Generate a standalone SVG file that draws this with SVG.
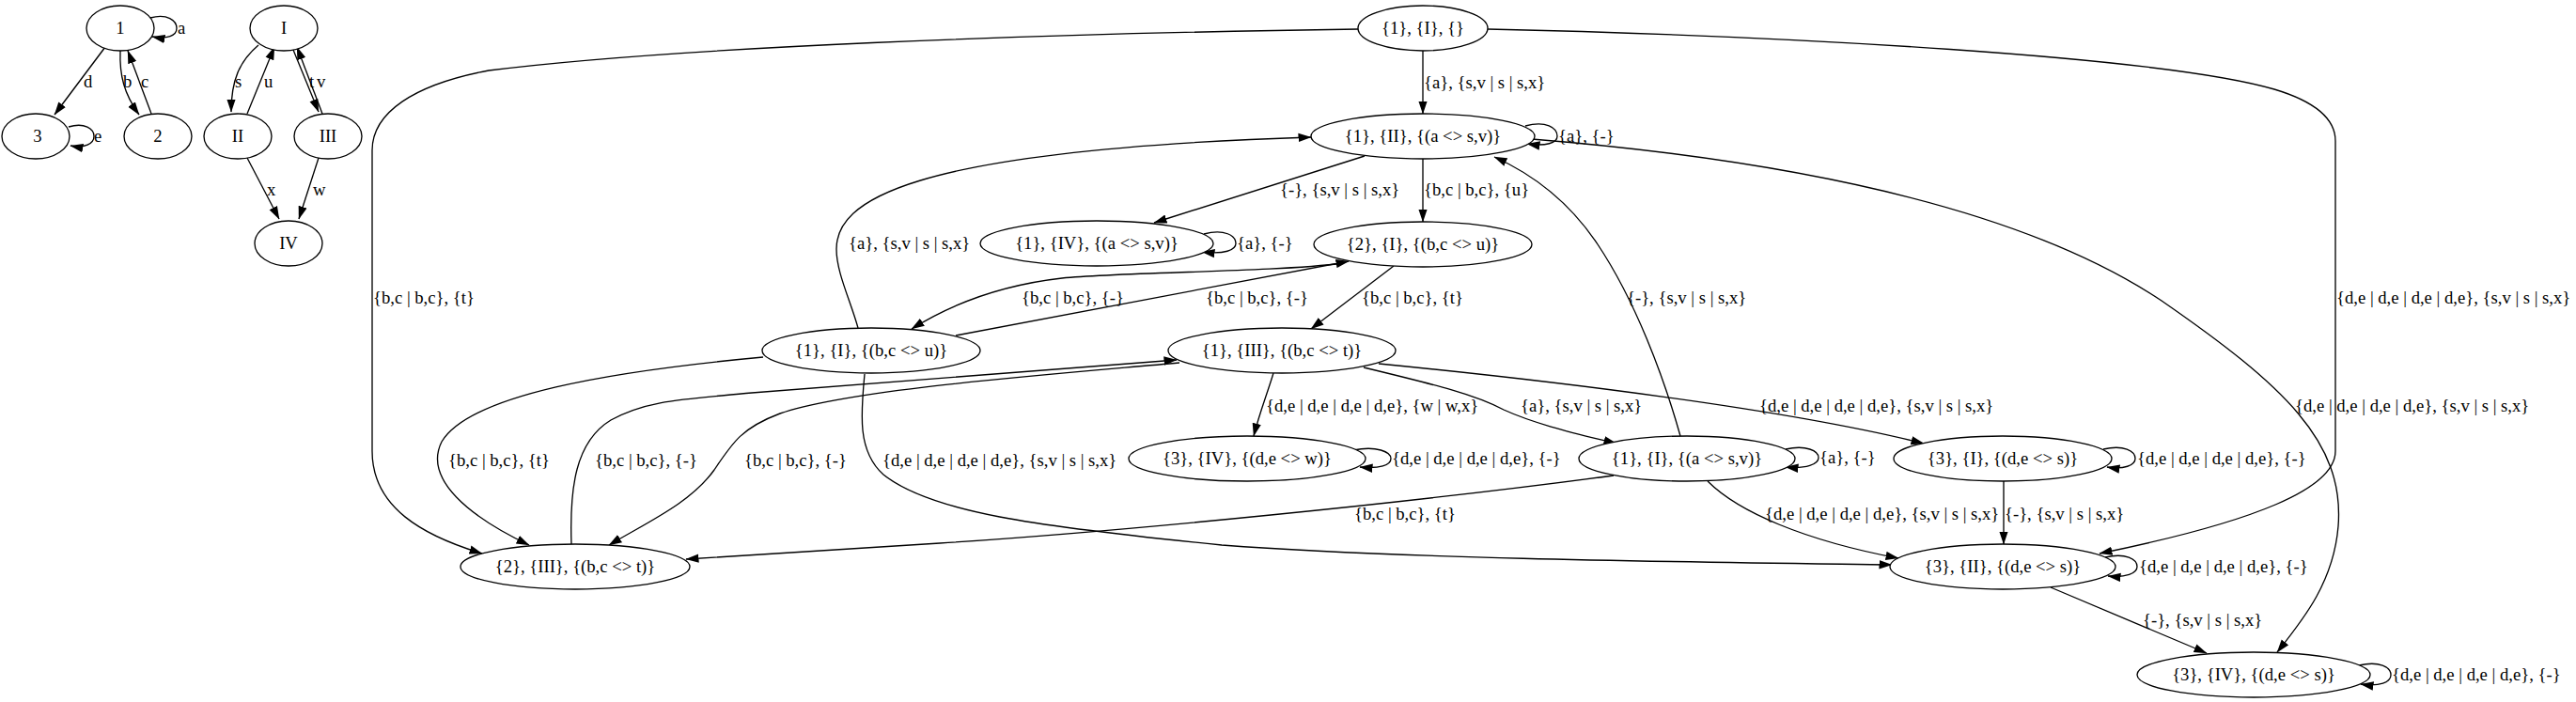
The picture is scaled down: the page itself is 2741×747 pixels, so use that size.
<svg xmlns="http://www.w3.org/2000/svg" width="2741" height="747" viewBox="0 0 2741 747">
<style>
.node ellipse{fill:#fff;stroke:#000;stroke-width:1.33}
.edges path{fill:none;stroke:#000;stroke-width:1.33;marker-end:url(#arr)}
text{font-family:"Liberation Serif",Times,serif;font-size:18.67px;fill:#000}
.node text{text-anchor:middle}
</style>
<defs>
<marker id="arr" markerUnits="userSpaceOnUse" markerWidth="14" markerHeight="10" viewBox="0 0 14 10" refX="13.5" refY="5" orient="auto"><path d="M0,0.3 L14,5 L0,9.7 z" fill="#000"/></marker>
</defs>
<rect width="2741" height="747" fill="#fff"/>
<g class="edges" id="connectors">
<!-- small graph 1 -->
<path d="M160,19 C178,14 188,22 188,30 C188,38 178,42 162,39"/><text x="189" y="36">a</text>
<path d="M112,50 L58,122"/><text x="89" y="93">d</text>
<path d="M128,54 C127,80 132,100 148,122"/><text x="131" y="93">b</text>
<path d="M161,121 L136,54"/><text x="150" y="93">c</text>
<path d="M73,135 C90,130 100,137 100,145 C100,153 90,158 75,155"/><text x="100" y="151">e</text>
<!-- small graph 2 -->
<path d="M275,48 C255,65 246,85 246,119"/><text x="250" y="93">s</text>
<path d="M263,121 L292,50"/><text x="281" y="93">u</text>
<path d="M312,53 L339,119"/><text x="329" y="93">t</text>
<path d="M343,121 L316,50"/><text x="337" y="93">v</text>
<path d="M263,168 L297,233"/><text x="284" y="208">x</text>
<path d="M339,168 L318,233"/><text x="333" y="208">w</text>
<!-- main graph -->
<path d="M1514,54 L1514,121"/><text x="1515" y="94">{a}, {s,v | s | s,x}</text>
<path d="M1445,31 C1100,36 720,50 520,75 C440,90 396,120 396,160 L396,480 C396,540 450,570 513,589"/><text x="397" y="323">{b,c | b,c}, {t}</text>
<path d="M1583,31 C1900,38 2300,60 2420,95 C2470,110 2485,130 2485,150 L2485,480 C2485,520 2400,555 2234,589"/><text x="2486" y="323">{d,e | d,e | d,e | d,e}, {s,v | s | s,x}</text>
<path d="M1623,134 C1645,128 1657,136 1657,145 C1657,152 1645,156 1625,153"/><text x="1658" y="151">{a}, {-}</text>
<path d="M1452,166 L1228,237"/><text x="1362" y="208">{-}, {s,v | s | s,x}</text>
<path d="M1514,169 L1514,236"/><text x="1515" y="208">{b,c | b,c}, {u}</text>
<path d="M1630,148 C1900,170 2150,220 2300,320 C2430,410 2495,470 2488,560 C2483,620 2450,660 2423,694"/><text x="2442" y="438">{d,e | d,e | d,e | d,e}, {s,v | s | s,x}</text>
<path d="M1281,249 C1303,243 1315,251 1315,259 C1315,266 1303,271 1279,268"/><text x="1316" y="265">{a}, {-}</text>
<path d="M1430,280 C1350,290 1200,289 1130,296 C1060,304 1010,325 970,350"/><text x="1087" y="323">{b,c | b,c}, {-}</text>
<path d="M1017,357 L1435,278"/><text x="1283" y="323">{b,c | b,c}, {-}</text>
<path d="M1483,283 L1395,350"/><text x="1449" y="323">{b,c | b,c}, {t}</text>
<path d="M913,349 C905,320 890,290 890,265 C890,215 960,160 1395,146"/><text x="903" y="265">{a}, {s,v | s | s,x}</text>
<path d="M812,380 C650,395 500,420 470,470 C450,510 500,550 563,580"/><text x="477" y="496">{b,c | b,c}, {t}</text>
<path d="M608,579 C606,520 612,470 650,447 C690,425 730,425 800,418 L1252,383"/><text x="633" y="496">{b,c | b,c}, {-}</text>
<path d="M1255,386 C1100,400 900,415 830,440 C790,455 780,470 760,500 C735,535 690,555 648,580"/><text x="792" y="496">{b,c | b,c}, {-}</text>
<path d="M920,398 C916,440 912,480 940,505 C990,545 1100,560 1300,580 C1500,595 1800,598 2013,601"/><text x="939" y="496">{d,e | d,e | d,e | d,e}, {s,v | s | s,x}</text>
<path d="M1355,397 C1348,420 1340,440 1334,464"/><text x="1347" y="438">{d,e | d,e | d,e | d,e}, {w | w,x}</text>
<path d="M1451,391 C1530,410 1570,420 1600,436 C1635,452 1680,462 1720,472"/><text x="1618" y="438">{a}, {s,v | s | s,x}</text>
<path d="M1467,387 C1650,405 1900,435 2047,472"/><text x="1872" y="438">{d,e | d,e | d,e | d,e}, {s,v | s | s,x}</text>
<path d="M1440,479 C1465,474 1480,481 1480,488 C1480,495 1468,499 1447,497"/><text x="1481" y="494">{d,e | d,e | d,e | d,e}, {-}</text>
<path d="M1900,478 C1922,473 1935,480 1935,487 C1935,494 1922,499 1900,497"/><text x="1936" y="493">{a}, {-}</text>
<path d="M1788,464 C1770,400 1740,320 1700,260 C1670,215 1630,185 1590,167"/><text x="1731" y="323">{-}, {s,v | s | s,x}</text>
<path d="M1717,506 C1500,535 1200,565 1000,578 L730,595"/><text x="1441" y="553">{b,c | b,c}, {t}</text>
<path d="M1817,512 C1850,545 1920,575 2020,594"/><text x="1878" y="553">{d,e | d,e | d,e | d,e}, {s,v | s | s,x}</text>
<path d="M2238,478 C2260,473 2272,480 2272,488 C2272,495 2260,500 2242,497"/><text x="2274" y="494">{d,e | d,e | d,e | d,e}, {-}</text>
<path d="M2132,512 L2132,579"/><text x="2133" y="553">{-}, {s,v | s | s,x}</text>
<path d="M2240,593 C2262,588 2274,595 2274,603 C2274,610 2262,615 2243,613"/><text x="2276" y="609">{d,e | d,e | d,e | d,e}, {-}</text>
<path d="M2182,625 L2348,695"/><text x="2280" y="666">{-}, {s,v | s | s,x}</text>
<path d="M2510,708 C2532,703 2544,710 2544,718 C2544,726 2532,731 2512,728"/><text x="2545" y="724">{d,e | d,e | d,e | d,e}, {-}</text>
</g>
<g class="node" id="s1"><ellipse cx="128" cy="30" rx="36" ry="24"/><text x="128" y="36">1</text></g>
<g class="node" id="s3"><ellipse cx="38" cy="145" rx="36" ry="24"/><text x="40" y="151">3</text></g>
<g class="node" id="s2"><ellipse cx="168" cy="145" rx="36" ry="24"/><text x="168" y="151">2</text></g>
<g class="node" id="tI"><ellipse cx="302" cy="30" rx="36" ry="24"/><text x="302" y="36">I</text></g>
<g class="node" id="tII"><ellipse cx="253" cy="145" rx="36" ry="24"/><text x="253" y="151">II</text></g>
<g class="node" id="tIII"><ellipse cx="349" cy="145" rx="36" ry="24"/><text x="349" y="151">III</text></g>
<g class="node" id="tIV"><ellipse cx="307" cy="259" rx="36" ry="24"/><text x="307" y="265">IV</text></g>
<g class="node" id="n0"><ellipse cx="1514" cy="30" rx="69" ry="24"/><text x="1514" y="36">{1}, {I}, {}</text></g>
<g class="node" id="n1"><ellipse cx="1514" cy="145" rx="119" ry="24"/><text x="1514" y="151">{1}, {II}, {(a &lt;&gt; s,v)}</text></g>
<g class="node" id="n2"><ellipse cx="1514" cy="260" rx="116" ry="24"/><text x="1514" y="266">{2}, {I}, {(b,c &lt;&gt; u)}</text></g>
<g class="node" id="n3"><ellipse cx="1167" cy="259" rx="124" ry="24"/><text x="1167" y="265">{1}, {IV}, {(a &lt;&gt; s,v)}</text></g>
<g class="node" id="n4"><ellipse cx="927" cy="373" rx="116" ry="24"/><text x="927" y="379">{1}, {I}, {(b,c &lt;&gt; u)}</text></g>
<g class="node" id="n5"><ellipse cx="1364" cy="373" rx="121" ry="24"/><text x="1364" y="379">{1}, {III}, {(b,c &lt;&gt; t)}</text></g>
<g class="node" id="n6"><ellipse cx="1327" cy="488" rx="126" ry="24"/><text x="1327" y="494">{3}, {IV}, {(d,e &lt;&gt; w)}</text></g>
<g class="node" id="n7"><ellipse cx="1795" cy="488" rx="115" ry="24"/><text x="1795" y="494">{1}, {I}, {(a &lt;&gt; s,v)}</text></g>
<g class="node" id="n8"><ellipse cx="2131" cy="488" rx="116" ry="24"/><text x="2131" y="494">{3}, {I}, {(d,e &lt;&gt; s)}</text></g>
<g class="node" id="n9"><ellipse cx="612" cy="603" rx="122" ry="24"/><text x="612" y="609">{2}, {III}, {(b,c &lt;&gt; t)}</text></g>
<g class="node" id="n10"><ellipse cx="2131" cy="603" rx="120" ry="24"/><text x="2131" y="609">{3}, {II}, {(d,e &lt;&gt; s)}</text></g>
<g class="node" id="n11"><ellipse cx="2398" cy="718" rx="124" ry="24"/><text x="2398" y="724">{3}, {IV}, {(d,e &lt;&gt; s)}</text></g>
</svg>
